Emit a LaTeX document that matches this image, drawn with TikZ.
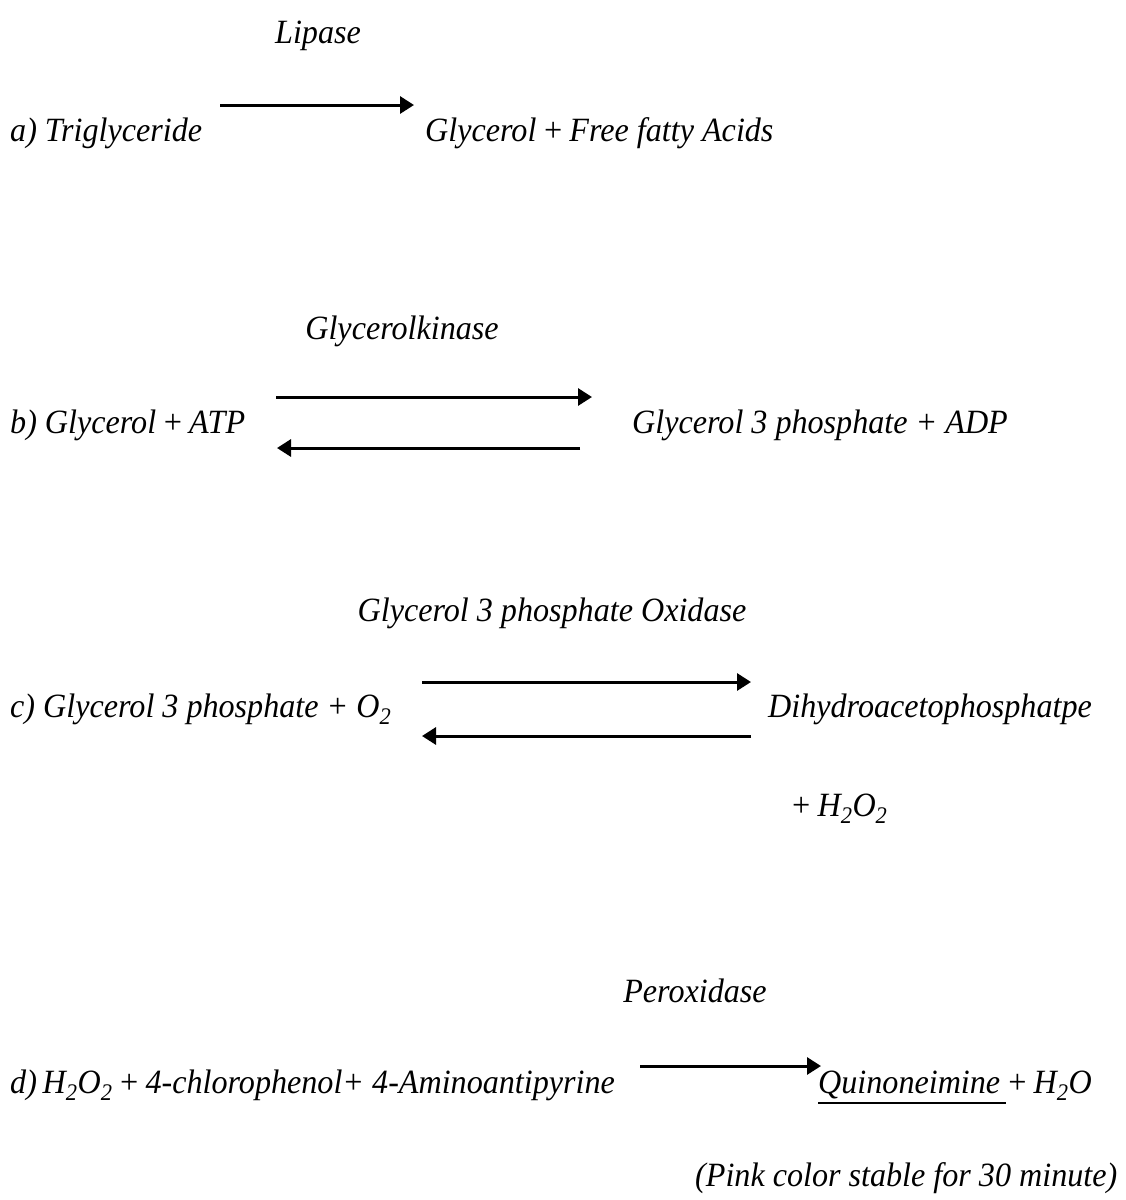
\documentclass[tikz,border=0pt]{standalone}
\usepackage{fontspec}
\setmainfont[FakeStretch=0.945]{Liberation Serif}
\usetikzlibrary{arrows.meta}
\begin{document}
\begin{tikzpicture}[x=1pt,y=-1pt,
  txt/.style={inner sep=0pt,anchor=base west,font=\fontsize{34}{40}\selectfont\itshape},
  ctxt/.style={inner sep=0pt,anchor=base,font=\fontsize{34}{40}\selectfont\itshape},
  rxn/.style={line width=3pt,-{Triangle[length=14pt,width=17pt]}}]
\useasboundingbox (0,0) rectangle (1126,1200);
% a
\node[ctxt] (lip) at (318,43) {Lipase};
\node[txt] (a1) at (10,141) {a) Triglyceride};
\node[txt] (a2) at (425,141) {Glycerol\,+\,Free fatty Acids};
\coordinate (as) at (220,105); \coordinate (ae) at (414,105);
\draw[rxn] (as) -- (ae);
% b
\node[ctxt] (gk) at (402,339) {Glycerolkinase};
\node[txt] (b1) at (10,433) {b) Glycerol\,+\,ATP};
\node[txt] (b2) at (632,433) {Glycerol 3 phosphate + ADP};
\coordinate (bs) at (276,397); \coordinate (be) at (592,397);
\coordinate (br) at (580,448); \coordinate (bl) at (277,448);
\draw[rxn] (bs) -- (be);
\draw[rxn] (br) -- (bl);
% c
\node[ctxt] (gox) at (552,621) {Glycerol 3 phosphate Oxidase};
\node[txt] (c1) at (10,717) {c) Glycerol 3 phosphate + O\textsubscript{2}};
\node[txt] (c2) at (768,717) {Dihydroacetophosphatpe};
\node[txt] (c3) at (790,816) {+\,H\textsubscript{2}O\textsubscript{2}};
\coordinate (cs) at (422,682); \coordinate (ce) at (751,682);
\coordinate (cr) at (751,736); \coordinate (cl) at (422,736);
\draw[rxn] (cs) -- (ce);
\draw[rxn] (cr) -- (cl);
% d
\node[ctxt] (per) at (695,1002) {Peroxidase};
\node[txt] (d1) at (10,1093) {d)\,H\textsubscript{2}O\textsubscript{2}\,+\,4-chlorophenol+ 4-Aminoantipyrine};
\node[txt] (q) at (818,1093) {Quinoneimine\,};
\node[txt, anchor=base west] (d3) at (q.base east) {+\,H\textsubscript{2}O};
\draw[line width=1.8pt] ([yshift=-10pt]q.base west) -- ([yshift=-10pt]q.base east);
\coordinate (ds) at (640,1066); \coordinate (de) at (821,1066);
\draw[rxn] (ds) -- (de);
\node[txt] (pink) at (695,1186) {(Pink color stable for 30 minute)};
\end{tikzpicture}
\end{document}
